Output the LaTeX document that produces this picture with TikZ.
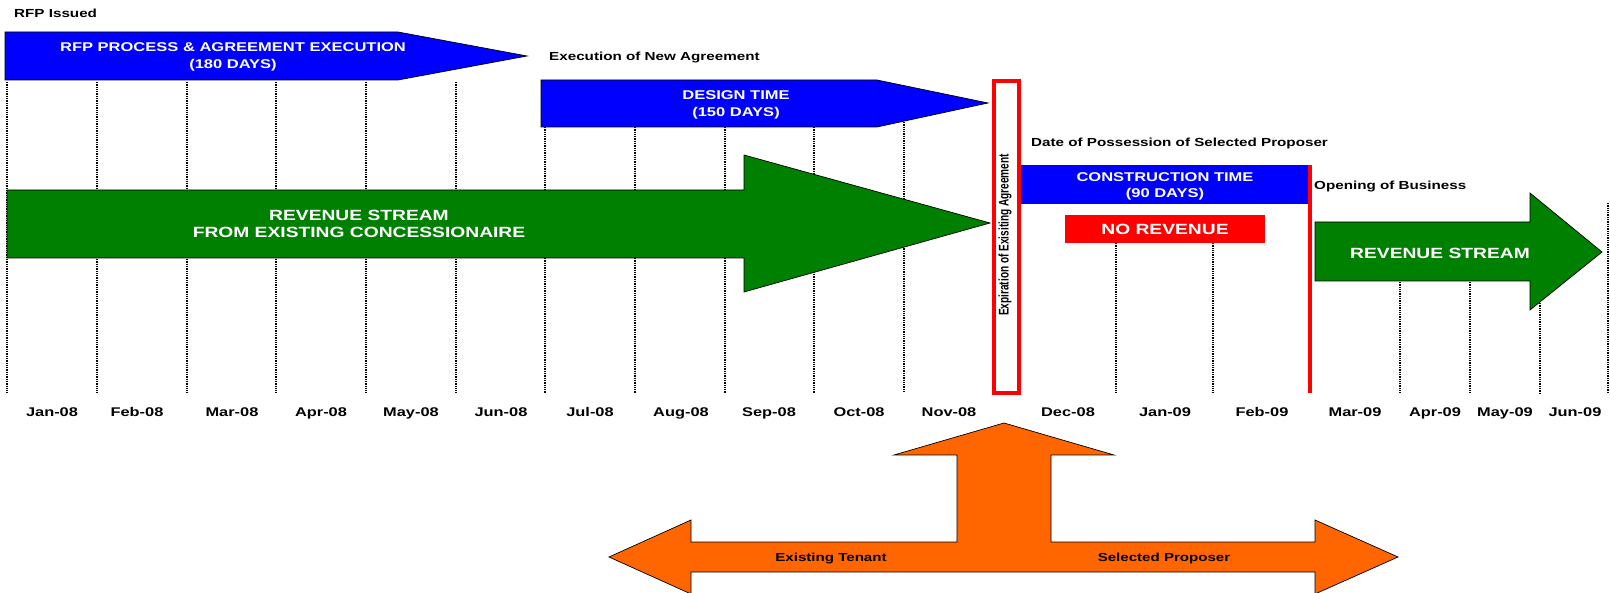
\documentclass[tikz,border=0pt]{standalone}
\usepackage{fontspec}
\newfontfamily\widefont{Liberation Sans}[FakeStretch=1.3]
\newfontfamily\tallfont{Liberation Sans}[FakeStretch=0.72]
\definecolor{taskblue}{RGB}{0, 0, 255}
\definecolor{revgreen}{RGB}{0, 128, 0}
\definecolor{norevred}{RGB}{255, 0, 0}
\definecolor{partyorange}{RGB}{255, 102, 0}
\usetikzlibrary{calc}

\begin{document}
\begin{tikzpicture}[
  x=1pt, y=-1pt,
  milestone/.style={font=\widefont\bfseries\fontsize{11.7}{13}\selectfont, anchor=west, inner sep=0pt, text height=8.4pt, text depth=0pt},
  barlabel/.style={font=\widefont\bfseries\fontsize{12.7}{16.5}\selectfont, text=white, align=center, inner sep=0pt},
  streamlabel/.style={font=\widefont\bfseries\fontsize{14.8}{17}\selectfont, text=white, align=center, inner sep=0pt},
  monthlabel/.style={font=\widefont\bfseries\fontsize{12.6}{14}\selectfont, inner sep=0pt, text height=9pt, text depth=0pt},
  sidelabel/.style={font=\widefont\bfseries\fontsize{11.6}{13}\selectfont, inner sep=0pt, text height=8.3pt, text depth=0pt},
  gridline/.style={densely dotted, line width=1.3pt},
  blockarrow/.style={draw=black, line width=0.7pt, line join=miter}
]
  \useasboundingbox (0, 0) rectangle (1610, 593);

  % month grid
  \foreach \gx/\gtop in {7/82, 97/82, 187/82, 276/82, 366/82, 456/82, 545/127, 635/127, 725/127,
                         814/127, 904/122, 1116/243, 1213/243, 1400/282, 1470/282, 1540/303, 1608/203}
    \draw[gridline] (\gx, \gtop) -- (\gx, 393);

  \foreach \mx/\mname in {52/Jan-08, 137/Feb-08, 232/Mar-08, 321/Apr-08, 411/May-08, 501/Jun-08,
                          590/Jul-08, 681/Aug-08, 769/Sep-08, 859/Oct-08, 949/Nov-08, 1068/Dec-08,
                          1165/Jan-09, 1262/Feb-09, 1355/Mar-09, 1435/Apr-09, 1505/May-09, 1575/Jun-09}
    \node[monthlabel] (m-\mname) at (\mx, 412) {\mname};

  % task bars
  \filldraw[blockarrow, fill=taskblue] (5, 32) -- (398, 32) -- (527, 56) -- (398, 80) -- (5, 80) -- cycle;
  \node[barlabel] (rfp) at (233, 57) {RFP PROCESS \& AGREEMENT EXECUTION\\(180 DAYS)};

  \filldraw[blockarrow, fill=taskblue] (541, 80) -- (877, 80) -- (988, 103) -- (877, 127) -- (541, 127) -- cycle;
  \node[barlabel] (design) at (736, 105) {DESIGN TIME\\(150 DAYS)};

  \fill[taskblue] (1020, 165) rectangle (1309, 204);
  \node[barlabel] (build) at (1165, 186.5) {CONSTRUCTION TIME\\(90 DAYS)};

  \fill[norevred] (1065, 215) rectangle (1265, 243);
  \node[streamlabel, text height=10.6pt, text depth=0pt] (norev) at (1165, 229) {NO REVENUE};

  % revenue streams
  \filldraw[blockarrow, fill=revgreen] (7, 190) -- (744, 190) -- (744, 155) -- (990, 223)
    -- (744, 292) -- (744, 258) -- (7, 258) -- cycle;
  \node[streamlabel] (oldrev) at (359, 224) {REVENUE STREAM\\FROM EXISTING CONCESSIONAIRE};

  \filldraw[blockarrow, fill=revgreen] (1315, 222) -- (1530, 222) -- (1530, 193) -- (1602, 252)
    -- (1530, 310) -- (1530, 281) -- (1315, 281) -- cycle;
  \node[streamlabel, text height=10.6pt, text depth=0pt] (newrev) at (1440, 253) {REVENUE STREAM};

  % expiration and opening markers
  \draw[norevred, line width=4pt] (994, 81) rectangle (1019, 393);
  \node[rotate=90, inner sep=0pt, font=\tallfont\bfseries\fontsize{14}{16}\selectfont] (expire) at (1005, 235) {Expiration of Exisiting Agreement};
  \draw[norevred, line width=3.5pt] (1310, 165) -- (1310, 393);

  % milestones
  \node[milestone] (issued) at (14, 13) {RFP Issued};
  \node[milestone] (signed) at (549, 56) {Execution of New Agreement};
  \node[milestone] (possess) at (1031, 142) {Date of Possession of Selected Proposer};
  \node[milestone] (opening) at (1314, 185) {Opening of Business};

  % handover arrow
  \filldraw[blockarrow, fill=partyorange] (609, 557) -- (691, 520) -- (691, 542) -- (957, 542) -- (957, 455)
    -- (894, 455) -- (1004, 423) -- (1114, 455) -- (1051, 455) -- (1051, 542) -- (1315, 542)
    -- (1315, 520) -- (1398, 557) -- (1315, 594) -- (1315, 572) -- (691, 572) -- (691, 594) -- cycle;
  \node[sidelabel] (tenant) at (831, 557) {Existing Tenant};
  \node[sidelabel] (proposer) at (1164, 557) {Selected Proposer};
\end{tikzpicture}
\end{document}
